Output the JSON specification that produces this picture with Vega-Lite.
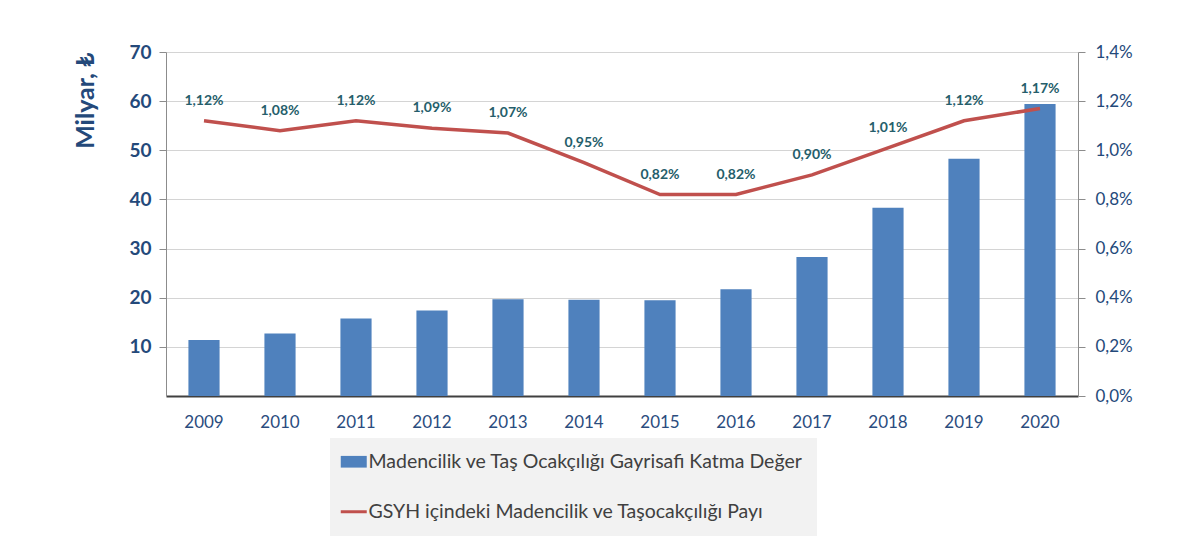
{
  "$schema": "https://vega.github.io/schema/vega-lite/v6.json",
  "width": 912,
  "height": 344,
  "autosize": {"type": "none"},
  "padding": {"left": 166, "top": 52, "right": 123, "bottom": 160},
  "background": "white",
  "config": {
    "font": "Lato",
    "view": {"stroke": null},
    "locale": {"number": {"decimal": ",", "thousands": ".", "grouping": [3], "currency": ["", " ₺"]}}
  },
  "data": {
    "values": [
      {"year": "2009", "value": 11.4, "share": 0.0112},
      {"year": "2010", "value": 12.7, "share": 0.0108},
      {"year": "2011", "value": 15.75, "share": 0.0112},
      {"year": "2012", "value": 17.4, "share": 0.0109},
      {"year": "2013", "value": 19.7, "share": 0.0107},
      {"year": "2014", "value": 19.6, "share": 0.0095},
      {"year": "2015", "value": 19.5, "share": 0.0082},
      {"year": "2016", "value": 21.7, "share": 0.0082},
      {"year": "2017", "value": 28.3, "share": 0.0090},
      {"year": "2018", "value": 38.3, "share": 0.0101},
      {"year": "2019", "value": 48.3, "share": 0.0112},
      {"year": "2020", "value": 59.4, "share": 0.0117}
    ]
  },
  "encoding": {
    "x": {
      "field": "year",
      "type": "ordinal",
      "scale": {"paddingInner": 0.59, "paddingOuter": 0.295},
      "axis": {
        "title": null,
        "labelAngle": 0,
        "labelFont": "Lato",
        "labelFontSize": 17,
        "labelColor": "#2B4C7E",
        "labelPadding": 18,
        "ticks": false,
        "domainColor": "#404040",
        "domainWidth": 2,
        "grid": false
      }
    }
  },
  "layer": [
    {
      "mark": {"type": "bar"},
      "encoding": {
        "y": {
          "field": "value",
          "type": "quantitative",
          "scale": {"domain": [0, 70], "nice": false},
          "axis": {
            "title": "Milyar, ₺",
            "titleFont": "Lato",
            "titleFontSize": 25,
            "titleFontWeight": "bold",
            "titleColor": "#24497A",
            "titleAnchor": "end",
            "titlePadding": 30,
            "values": [10, 20, 30, 40, 50, 60, 70],
            "labelFont": "Lato",
            "labelFontSize": 19,
            "labelFontWeight": "bold",
            "labelColor": "#24497A",
            "labelPadding": 8,
            "tickColor": "#8C8C8C",
            "tickSize": 7,
            "domainColor": "#8C8C8C",
            "gridColor": "#D4D4D4",
            "grid": true
          }
        },
        "color": {
          "datum": "Madencilik ve Taş Ocakçılığı Gayrisafi Katma Değer",
          "type": "nominal",
          "scale": {
            "domain": ["Madencilik ve Taş Ocakçılığı Gayrisafi Katma Değer", "GSYH içindeki Madencilik ve Taşocakçılığı Payı"],
            "range": ["#4F81BD", "#C0504D"]
          },
          "legend": {
            "title": null,
            "orient": "none",
            "legendX": 164,
            "legendY": 386,
            "fillColor": "#F2F2F2",
            "padding": 14,
            "rowPadding": 29,
            "symbolSize": 676,
            "labelFont": "Lato",
            "labelFontSize": 19.5,
            "labelColor": "#404040",
            "labelLimit": 600,
            "labelOffset": 5,
            "encode": {
              "symbols": {
                "update": {
                  "shape": {"signal": "datum.value === 'GSYH içindeki Madencilik ve Taşocakçılığı Payı' ? 'stroke' : 'M-1,-0.45H1V0.45H-1Z'"},
                  "fill": {"signal": "datum.value === 'GSYH içindeki Madencilik ve Taşocakçılığı Payı' ? 'transparent' : '#4F81BD'"},
                  "stroke": {"signal": "datum.value === 'GSYH içindeki Madencilik ve Taşocakçılığı Payı' ? '#C0504D' : 'transparent'"},
                  "strokeWidth": {"signal": "datum.value === 'GSYH içindeki Madencilik ve Taşocakçılığı Payı' ? 3 : 0"},
                  "opacity": {"value": 1}
                }
              }
            }
          }
        }
      }
    },
    {
      "mark": {"type": "line", "strokeWidth": 3.5},
      "encoding": {
        "y": {
          "field": "share",
          "type": "quantitative",
          "scale": {"domain": [0, 0.014], "nice": false},
          "axis": {
            "title": null,
            "orient": "right",
            "format": ".1%",
            "values": [0, 0.002, 0.004, 0.006, 0.008, 0.01, 0.012, 0.014],
            "labelFont": "Lato",
            "labelFontSize": 17,
            "labelColor": "#24497A",
            "labelPadding": 10,
            "tickColor": "#8C8C8C",
            "tickSize": 7,
            "domainColor": "#8C8C8C",
            "grid": false
          }
        },
        "color": {
          "datum": "GSYH içindeki Madencilik ve Taşocakçılığı Payı",
          "type": "nominal"
        }
      }
    },
    {
      "mark": {"type": "text", "dy": -20, "font": "Lato", "fontSize": 14, "fontWeight": "bold", "color": "#255E6B"},
      "encoding": {
        "y": {"field": "share", "type": "quantitative", "scale": {"domain": [0, 0.014], "nice": false}, "axis": null},
        "text": {"field": "share", "type": "quantitative", "format": ".2%"}
      }
    }
  ],
  "resolve": {"scale": {"y": "independent"}}
}
